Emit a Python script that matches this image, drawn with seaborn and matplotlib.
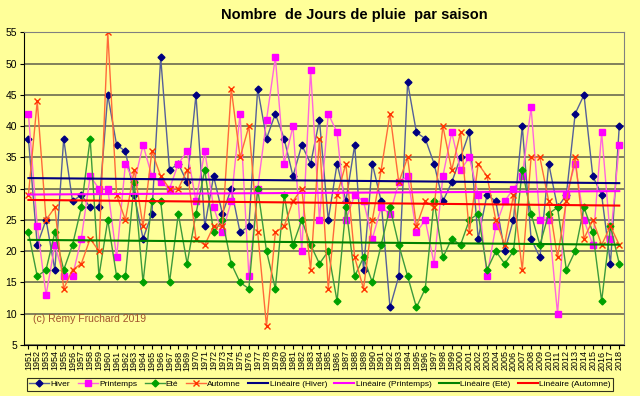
import numpy as np
import pandas as pd
import seaborn as sns
import matplotlib.pyplot as plt

# jours de pluie par saison, 1951-2018
years = list(range(1951, 2019))
hiver = [38, 21, 25, 17, 38, 28, 29, 27, 27, 45,
         37, 36, 29, 22, 26, 51, 33, 34, 31, 45,
         24, 32, 26, 30, 23, 24, 46, 38, 42, 38,
         32, 37, 34, 41, 25, 34, 28, 37, 17, 34,
         28, 11, 16, 47, 39, 38, 34, 28, 31, 35,
         39, 22, 29, 28, 20, 25, 40, 22, 19, 34,
         27, 29, 42, 45, 32, 29, 18, 40]
printemps = [42, 24, 13, 21, 16, 16, 22, 32, 30, 30,
             19, 34, 31, 37, 32, 31, 30, 34, 36, 28,
             36, 27, 23, 28, 42, 16, 30, 41, 51, 34,
             40, 20, 49, 25, 42, 39, 25, 29, 28, 22,
             27, 26, 31, 32, 23, 25, 18, 32, 39, 33,
             35, 29, 16, 24, 28, 30, 32, 43, 25, 25,
             10, 29, 34, 25, 21, 39, 22, 37]
ete = [23, 16, 17, 23, 17, 21, 27, 38, 16, 25,
       16, 16, 31, 15, 28, 28, 15, 26, 18, 26,
       33, 23, 25, 18, 15, 14, 30, 20, 14, 29,
       21, 25, 21, 18, 20, 12, 27, 16, 19, 15,
       21, 27, 21, 16, 11, 14, 28, 19, 22, 21,
       25, 26, 17, 20, 18, 20, 33, 26, 21, 26,
       27, 17, 20, 27, 23, 12, 24, 18]
automne = [29, 44, 25, 27, 14, 17, 18, 22, 20, 55,
           29, 25, 33, 24, 36, 32, 30, 30, 33, 22,
           21, 24, 24, 46, 35, 40, 23, 8, 23, 24,
           28, 30, 17, 38, 14, 29, 34, 19, 14, 25,
           33, 42, 31, 35, 24, 28, 27, 40, 33, 39,
           23, 34, 32, 25, 21, 29, 17, 35, 35, 28,
           19, 28, 35, 22, 25, 21, 24, 21]

df = pd.DataFrame({'annee': years, 'Hiver': hiver, 'Printemps': printemps,
                   'Eté': ete, 'Automne': automne})

bg = '#FFFF99'
plt.rcParams['font.family'] = ['Liberation Sans', 'DejaVu Sans']

fig = plt.figure(figsize=(6.4, 3.96), dpi=100, facecolor=bg)
ax = fig.add_axes([0.0375, 0.129, 0.937, 0.789])
ax.set_facecolor(bg)

# séries : (nom, couleur ligne, couleur marqueur, marqueur, taille)
series = [('Hiver', '#55609A', '#000080', 'D', 3.5),
          ('Printemps', '#FF66DD', '#FF00FF', 's', 5),
          ('Eté', '#3C9A3C', '#00A000', 'D', 3.5),
          ('Automne', '#FF6A3A', '#FF3300', 'x', 4)]
trend_col = {'Hiver': '#000080', 'Printemps': '#FF00FF', 'Eté': '#008000', 'Automne': '#FF0000'}

for name, lc, mc, mk, ms in series:
    sns.lineplot(data=df, x='annee', y=name, ax=ax, color=lc, lw=1,
                 marker=mk, markersize=ms, markerfacecolor=mc, markeredgecolor=mc,
                 markeredgewidth=1, label=name)

for name, lc, mc, mk, ms in series:
    sns.regplot(data=df, x='annee', y=name, ax=ax, scatter=False, ci=None, truncate=True,
                line_kws={'color': trend_col[name], 'lw': 1.5},
                label='Linéaire (%s)' % name)

ax.set_xlim(1950.5, 2018.5)
ax.set_ylim(5, 55)
ax.set_yticks(range(5, 60, 5))
ax.set_xticks(years)
ax.set_xticklabels([str(y) for y in years], rotation=90, fontsize=6.5)
ax.tick_params(axis='y', labelsize=7.5, length=3, pad=2)
ax.tick_params(axis='x', length=3, pad=1)
ax.set_xlabel('')
ax.set_ylabel('')
ax.grid(axis='y', color='#6B6B50', lw=1.2)
ax.grid(axis='x', visible=False)
for s in ['left', 'bottom']:
    ax.spines[s].set_color('black')
for s in ['top', 'right']:
    ax.spines[s].set_color('#808080')

ax.text(1951.5, 8.6, '(c) Rémy Fruchard 2019', color='#A0522D', fontsize=7.5)

fig.text(0.553, 0.962, 'Nombre  de Jours de pluie  par saison', ha='center', va='center',
         fontsize=10.5, fontweight='bold')

h, l = ax.get_legend_handles_labels()
ax.legend_.remove()
leg = fig.legend(h, l, ncol=8, loc='center', bbox_to_anchor=(0.5, 0.03), fontsize=6.0,
                 frameon=True, fancybox=False, edgecolor='black', facecolor=bg,
                 handlelength=2.4, columnspacing=0.9, handletextpad=0.15, borderpad=0.3)
leg.get_frame().set_linewidth(0.8)

fig.savefig('out.png', dpi=100, facecolor=bg)
